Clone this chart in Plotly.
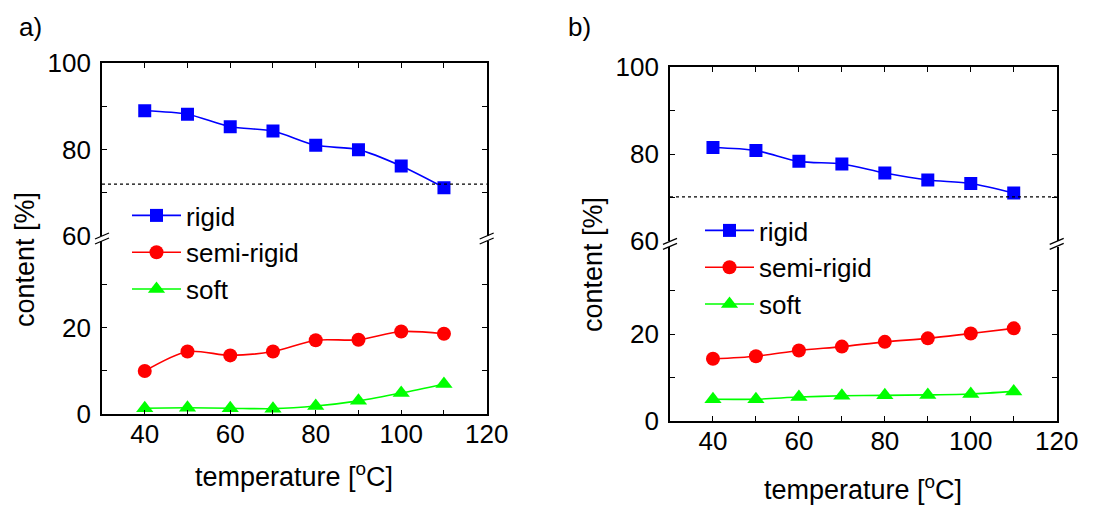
import plotly.graph_objects as go

W, H = 1098, 505

temperature = [40, 50, 60, 70, 80, 90, 100, 110]

# panel a
rigid_a = [89.0, 88.2, 85.3, 84.3, 81.0, 80.0, 76.2, 71.2]
semi_a = [10.0, 14.5, 13.6, 14.5, 17.1, 17.2, 19.1, 18.6]
soft_a = [1.4, 1.5, 1.4, 1.3, 1.9, 3.1, 4.9, 7.0]
thresh_a = 72.0

# panel b
rigid_b = [81.5, 80.8, 78.3, 77.7, 75.6, 74.0, 73.2, 71.0]
semi_b = [14.3, 14.9, 16.2, 17.1, 18.2, 19.0, 20.1, 21.3]
soft_b = [5.0, 5.0, 5.5, 5.8, 5.9, 6.0, 6.2, 6.8]
thresh_b = 70.1

series_names = ["rigid", "semi-rigid", "soft"]
colors = ["#0000FF", "#FF0000", "#00FF00"]
symbols = ["square", "circle", "triangle-up"]
msizes = [13, 14, 15]

FONT = "Liberation Sans, Arial, sans-serif"
TICKSIZE = 26
TEXTSIZE = 27
LEGSIZE = 26

fig = go.Figure()

panels = [
    dict(rigid=rigid_a, semi=semi_a, soft=soft_a, th=thresh_a,
         xbot="x", ybot="y", xtop="x2", ytop="y2", legend="legend"),
    dict(rigid=rigid_b, semi=semi_b, soft=soft_b, th=thresh_b,
         xbot="x3", ybot="y3", xtop="x4", ytop="y4", legend="legend2"),
]

for p in panels:
    vals = [p["rigid"], p["semi"], p["soft"]]
    for i, name in enumerate(series_names):
        top = (i == 0)
        fig.add_trace(go.Scatter(
            x=temperature, y=vals[i], name=name, mode="lines+markers",
            line=dict(color=colors[i], width=1.6, shape="spline", smoothing=0.8),
            marker=dict(symbol=symbols[i], size=msizes[i], color=colors[i]),
            xaxis=p["xtop"] if top else p["xbot"],
            yaxis=p["ytop"] if top else p["ybot"],
            legend=p["legend"], showlegend=True,
        ))

def px_x(v):
    return v / W

def px_y(v):
    return 1 - v / H

geo = {
    "a": dict(xl=102, xr=486.7, top=63.3, mid_top=236.0, mid_bot=241.0, bot=414.3),
    "b": dict(xl=670, xr=1056.7, top=67.3, mid_top=240.7, mid_bot=247.0, bot=421.0),
}

common_x = dict(range=[30, 120], showline=True, linecolor="black", linewidth=1.6,
                ticks="inside", ticklen=5, tickwidth=1.4, tickcolor="black",
                tickmode="array", tickvals=[40, 60, 80, 100, 120],
                minor=dict(ticks="inside", ticklen=5, tickwidth=1.4, tickcolor="black",
                           tickmode="array", tickvals=[50, 70, 90, 110]),
                showgrid=False, zeroline=False, automargin=False,
                ticklabelstandoff=-4,
                tickfont=dict(family=FONT, size=TICKSIZE, color="black"))

common_y = dict(showline=True, linecolor="black", linewidth=1.6, mirror="ticks",
                ticks="inside", ticklen=5, tickwidth=1.4, tickcolor="black",
                showgrid=False, zeroline=False, tickmode="array", automargin=False,
                ticklabelstandoff=4,
                tickfont=dict(family=FONT, size=TICKSIZE, color="black"))

layout_axes = {}
for key, (xb, yb, xt, yt) in zip(["a", "b"], [("xaxis", "yaxis", "xaxis2", "yaxis2"),
                                              ("xaxis3", "yaxis3", "xaxis4", "yaxis4")]):
    g = geo[key]
    xd = [px_x(g["xl"]), px_x(g["xr"])]
    ybd = [px_y(g["bot"]), px_y(g["mid_bot"])]
    ytd = [px_y(g["mid_top"]), px_y(g["top"])]
    ybname = yb.replace("axis", "")
    ytname = yt.replace("axis", "")
    xbname = xb.replace("axis", "")
    xtname = xt.replace("axis", "")
    layout_axes[xb] = dict(common_x, domain=xd, anchor=ybname, side="bottom")
    layout_axes[xt] = dict(common_x, domain=xd, anchor=ytname, side="top",
                           showticklabels=False)
    layout_axes[yb] = dict(common_y, domain=ybd, anchor=xbname, range=[0, 40],
                           tickvals=[0, 20],
                           minor=dict(ticks="inside", ticklen=5, tickwidth=1.4,
                                      tickcolor="black", tickmode="array", tickvals=[10, 30]))
    layout_axes[yt] = dict(common_y, domain=ytd, anchor=xtname, range=[60, 100],
                           tickvals=[60, 80, 100],
                           minor=dict(ticks="inside", ticklen=5, tickwidth=1.4,
                                      tickcolor="black", tickmode="array", tickvals=[70, 90]))

fig.update_layout(**layout_axes)

shapes = []
for p in panels:
    shapes.append(dict(type="line", xref=p["xtop"] + " domain", yref=p["ytop"],
                       x0=0, x1=1, y0=p["th"], y1=p["th"],
                       line=dict(color="black", width=1.2, dash="dot")))

# axis-break marks
for key in ["a", "b"]:
    g = geo[key]
    ymid = (g["mid_top"] + g["mid_bot"]) / 2
    for xc in [g["xl"], g["xr"]]:
        for dy in [-2.5, 2.5]:
            shapes.append(dict(type="line", xref="paper", yref="paper",
                               x0=px_x(xc - 7), x1=px_x(xc + 7),
                               y0=px_y(ymid + dy + 3), y1=px_y(ymid + dy - 3),
                               line=dict(color="black", width=1.3)))

fig.update_layout(shapes=shapes)

annotations = [
    dict(text="a)", x=px_x(17), y=px_y(27), xanchor="left", yanchor="middle", size=26),
    dict(text="b)", x=px_x(566), y=px_y(27), xanchor="left", yanchor="middle", size=26),
    dict(text="temperature [<sup>o</sup>C]", x=px_x(294), y=px_y(475),
         xanchor="center", yanchor="middle", size=TEXTSIZE),
    dict(text="temperature [<sup>o</sup>C]", x=px_x(863), y=px_y(488),
         xanchor="center", yanchor="middle", size=TEXTSIZE),
    dict(text="content [%]", x=px_x(25), y=px_y(260), textangle=-90,
         xanchor="center", yanchor="middle", size=TEXTSIZE),
    dict(text="content [%]", x=px_x(593), y=px_y(265), textangle=-90,
         xanchor="center", yanchor="middle", size=TEXTSIZE),
]
for a in annotations:
    sz = a.pop("size")
    a.update(xref="paper", yref="paper", showarrow=False,
             font=dict(family=FONT, size=sz, color="black"))
fig.update_layout(annotations=annotations)

legend_common = dict(bgcolor="rgba(0,0,0,0)", borderwidth=0,
                     font=dict(family=FONT, size=LEGSIZE, color="black"),
                     itemwidth=49, tracegroupgap=0,
                     xanchor="left", yanchor="top", itemclick=False)
fig.update_layout(
    legend=dict(legend_common, x=px_x(127), y=px_y(192)),
    legend2=dict(legend_common, x=px_x(700), y=px_y(207)),
)

fig.update_layout(width=W, height=H,
                  margin=dict(l=0, r=0, t=0, b=0, pad=0, autoexpand=False),
                  paper_bgcolor="white", plot_bgcolor="white",
                  font=dict(family=FONT, color="black"))

fig.write_html("out.html", config={"displayModeBar": False},
               post_script="document.body.style.margin='0';document.body.style.padding='0';")
